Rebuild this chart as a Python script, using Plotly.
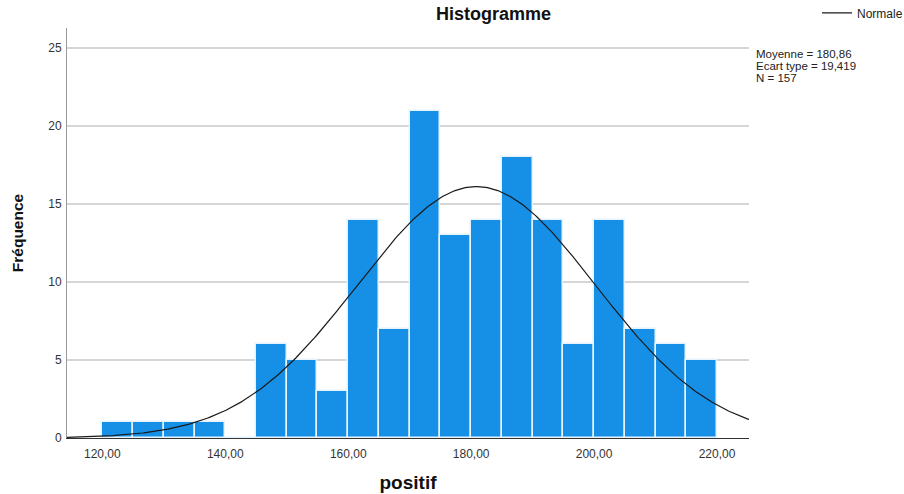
import numpy as np
import plotly.graph_objects as go

# Histogram bins (left edges, width 5) and frequencies
bin_left = [120, 125, 130, 135, 140, 145, 150, 155, 160, 165,
            170, 175, 180, 185, 190, 195, 200, 205, 210, 215]
counts = [1, 1, 1, 1, 0, 6, 5, 3, 14, 7,
          21, 13, 14, 18, 14, 6, 14, 7, 6, 5]
bin_width = 5
mean = 180.86
std = 19.419
n = 157

x_ticks = [120, 140, 160, 180, 200, 220]
x_tick_labels = ["120,00", "140,00", "160,00", "180,00", "200,00", "220,00"]
y_ticks = [0, 5, 10, 15, 20, 25]
stats_lines = ["Moyenne = 180,86", "Ecart type = 19,419", "N = 157"]

x_range = [114.25, 225.2]
y_range = [0, 26.3]

centers = [b + bin_width / 2 for b in bin_left]

# Normal curve scaled to the histogram counts
xs = np.linspace(x_range[0], x_range[1], 400)
ys = n * bin_width * np.exp(-0.5 * ((xs - mean) / std) ** 2) / (std * np.sqrt(2 * np.pi))

fig = go.Figure()
fig.add_trace(go.Bar(
    x=centers, y=counts, width=bin_width,
    marker=dict(color="#1590e6", line=dict(color="#e6f3fd", width=1.5)),
    showlegend=False, hoverinfo="skip",
))
fig.add_trace(go.Scatter(
    x=xs, y=ys, mode="lines", name="Normale",
    line=dict(color="#1a1a1a", width=1.2),
))

# Statistics block, one line per annotation for tight line spacing
stats_annotations = [
    dict(text=line, xref="paper", yref="paper", x=1.0088, y=0.936 - i * 0.0293,
         xanchor="left", yanchor="middle", align="left", showarrow=False,
         borderpad=0, font=dict(size=11.5, color="#222222"))
    for i, line in enumerate(stats_lines)
]

fig.update_layout(
    width=904, height=494,
    margin=dict(l=67, r=155, t=28, b=56, autoexpand=False),
    paper_bgcolor="white", plot_bgcolor="white",
    font=dict(family="Liberation Sans, Arial, sans-serif", color="#333333", size=12),
    bargap=0,
    title=dict(text="<b>Histogramme</b>", x=0.546, xanchor="center", y=0.972, yanchor="middle",
               font=dict(size=18, color="#111111")),
    legend=dict(x=1.0997, y=1.037, xanchor="left", yanchor="middle",
                font=dict(size=12, color="#222222"), bgcolor="rgba(0,0,0,0)",
                itemwidth=30),
    xaxis=dict(range=x_range, tickvals=x_ticks, ticktext=x_tick_labels,
               showgrid=False, zeroline=False, showline=True, linecolor="#333333",
               linewidth=1.2, ticks="", ticklabelstandoff=4,
               tickfont=dict(size=12, color="#333333"),
               title=dict(text="<b>positif</b>", font=dict(size=19, color="#111111"), standoff=16)),
    yaxis=dict(range=y_range, tickvals=y_ticks, showgrid=True, gridcolor="#d6d6d6",
               gridwidth=1.5, zeroline=False, showline=True, linecolor="#999999",
               linewidth=1, ticks="", ticklabelstandoff=2,
               tickfont=dict(size=12, color="#333333"),
               title=dict(text="<b>Fréquence</b>", font=dict(size=15.5, color="#111111"), standoff=20)),
    annotations=stats_annotations,
)

fig.write_html("out.html")
